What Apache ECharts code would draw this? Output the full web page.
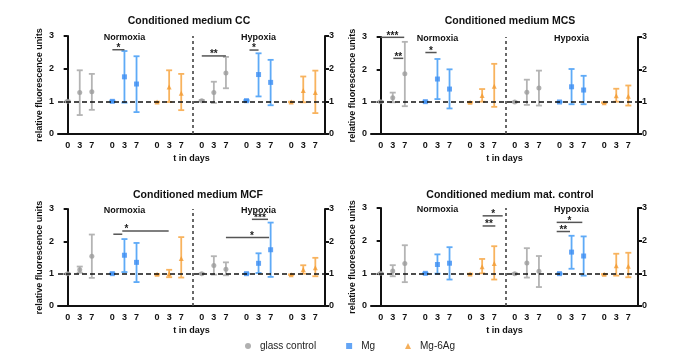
<!DOCTYPE html>
<html>
<head>
<meta charset="utf-8">
<script src="https://cdn.jsdelivr.net/npm/echarts@6/dist/echarts.min.js"></script>
<style>html,body{margin:0;background:#fff}#chart{width:680px;height:352px}</style>
</head>
<body>
<div id="chart"></div>
<script>
const days = ['0', '3', '7'];
const materials = ['glass control', 'Mg', 'Mg-6Ag'];
const conditions = ['Normoxia', 'Hypoxia'];
const titles = ['Conditioned medium CC', 'Conditioned medium MCS', 'Conditioned medium MCF', 'Conditioned medium mat. control'];

// [mean, lower, upper] -> Normoxia d0, d3, d7, then Hypoxia d0, d3, d7
const ccGlass = [[1.0, 0.98, 1.02], [1.27, 0.58, 1.95], [1.29, 0.74, 1.84], [1.02, 1.0, 1.04], [1.27, 0.95, 1.6], [1.87, 1.4, 2.36]];
const ccMg = [[1.0, 0.98, 1.02], [1.75, 0.96, 2.54], [1.53, 0.67, 2.38], [1.02, 1.0, 1.04], [1.82, 1.15, 2.47], [1.58, 0.88, 2.27]];
const ccAg = [[0.98, 0.97, 0.99], [1.44, 0.98, 1.95], [1.25, 0.73, 1.84], [0.98, 0.97, 0.99], [1.33, 0.97, 1.76], [1.27, 0.64, 1.94]];

const mcsGlass = [[1.0, 0.99, 1.01], [1.12, 0.98, 1.28], [1.86, 0.86, 2.85], [0.99, 0.98, 1.0], [1.29, 0.9, 1.68], [1.42, 0.88, 1.96]];
const mcsMg = [[1.0, 0.99, 1.01], [1.7, 1.08, 2.32], [1.39, 0.79, 2.0], [0.99, 0.98, 1.0], [1.46, 0.92, 2.01], [1.36, 0.92, 1.8]];
const mcsAg = [[0.98, 0.97, 0.99], [1.19, 1.0, 1.39], [1.48, 0.84, 2.17], [0.97, 0.96, 0.98], [1.18, 1.0, 1.4], [1.17, 0.88, 1.5]];

const mcfGlass = [[1.0, 0.99, 1.01], [1.12, 1.03, 1.22], [1.54, 0.87, 2.21], [1.0, 0.99, 1.01], [1.25, 0.97, 1.54], [1.14, 0.95, 1.35]];
const mcfMg = [[1.0, 0.99, 1.01], [1.57, 1.05, 2.07], [1.35, 0.74, 1.95], [1.0, 0.99, 1.01], [1.32, 1.02, 1.63], [1.74, 0.9, 2.58]];
const mcfAg = [[0.98, 0.97, 0.99], [1.0, 0.89, 1.12], [1.47, 0.88, 2.13], [0.97, 0.96, 0.98], [1.13, 1.0, 1.26], [1.18, 0.92, 1.49]];

const matGlass = [[1.0, 0.99, 1.01], [1.07, 0.91, 1.25], [1.3, 0.73, 1.86], [0.99, 0.98, 1.0], [1.32, 0.87, 1.77], [1.06, 0.58, 1.53]];
const matMg = [[1.0, 0.99, 1.01], [1.27, 0.99, 1.58], [1.31, 0.81, 1.8], [0.99, 0.98, 1.0], [1.65, 1.14, 2.15], [1.53, 0.93, 2.13]];
const matAg = [[0.98, 0.97, 0.99], [1.2, 1.0, 1.44], [1.3, 0.81, 1.83], [0.97, 0.96, 0.98], [1.23, 0.93, 1.6], [1.22, 0.88, 1.63]];

// significance brackets: [x from, x to, y, text, text x]
const ccBrackets = [[3.7, 4.7, 2.58, '*'], [11.1, 13.1, 2.39, '**'], [15.05, 15.8, 2.57, '*']];
const mcsBrackets = [[0, 1.95, 2.99, '***'], [1.05, 1.87, 2.34, '**'], [3.7, 4.63, 2.52, '*']];
const mcfBrackets = [[3.78, 4.52, 2.22, ''], [4.52, 8.36, 2.32, '*', 4.86], [13.1, 16.67, 2.12, '*', 15.25], [15.25, 16.58, 2.68, '***']];
const matBrackets = [[8.44, 10.1, 2.76, '*', 9.32], [8.44, 9.49, 2.45, '**'], [14.57, 16.69, 2.56, '*'], [14.57, 15.67, 2.28, '**']];

const panels = [[ccGlass, ccMg, ccAg], [mcsGlass, mcsMg, mcsAg], [mcfGlass, mcfMg, mcfAg], [matGlass, matMg, matAg]];
const brackets = [ccBrackets, mcsBrackets, mcfBrackets, matBrackets];

const groupStep = 3.7;
const divider = 10.35;
const slotX = (cond, mat, day) => (cond * 3 + mat) * groupStep + day;
const slots = [];
for (let c = 0; c < 2; c++) for (let m = 0; m < 3; m++) for (let d = 0; d < 3; d++) slots.push({ x: slotX(c, m, d), label: days[d] });

const font = '"Liberation Sans", Arial, sans-serif';
const markerColors = ['#9c9c9c', '#3d8ef2', '#f39b32'];
const barColors = ['#b4b4b4', '#5eaaf7', '#f8b35e'];
const symbols = ['circle', 'rect', 'triangle'];

const grids = [
  { left: 58, top: 36, width: 267, height: 98 },
  { left: 371, top: 37, width: 267, height: 97 },
  { left: 58, top: 209, width: 267, height: 97 },
  { left: 371, top: 208, width: 267, height: 98 }
];
const titleCenters = [[184, 11], [505, 11], [193, 185], [505, 185]];

function errorBarItem(color) {
  return function (params, api) {
    const x = api.value(0);
    const lo = api.coord([x, api.value(1)]);
    const hi = api.coord([x, api.value(2)]);
    const w = 3;
    const style = { stroke: color, lineWidth: 1.8 };
    return {
      type: 'group',
      children: [
        { type: 'line', shape: { x1: lo[0], y1: lo[1], x2: hi[0], y2: hi[1] }, style },
        { type: 'line', shape: { x1: lo[0] - w, y1: lo[1], x2: lo[0] + w, y2: lo[1] }, style },
        { type: 'line', shape: { x1: hi[0] - w, y1: hi[1], x2: hi[0] + w, y2: hi[1] }, style }
      ]
    };
  };
}

function bracketItem(list) {
  return function (params, api) {
    const b = list[params.dataIndex];
    const p1 = api.coord([b[0], b[2]]);
    const p2 = api.coord([b[1], b[2]]);
    const children = [{ type: 'line', shape: { x1: p1[0], y1: p1[1], x2: p2[0], y2: p2[1] }, style: { stroke: '#555', lineWidth: 1.5 } }];
    if (b[3]) {
      const tx = api.coord([b[4] != null ? b[4] : (b[0] + b[1]) / 2, b[2]])[0];
      children.push({
        type: 'text', x: tx, y: p1[1] - 1.5,
        style: { text: b[3], align: 'center', verticalAlign: 'middle', font: 'bold 10px ' + font, fill: '#222' }
      });
    }
    return { type: 'group', children };
  };
}

function conditionLabel(params, api) {
  const p = api.coord([api.value(0), api.value(1)]);
  return {
    type: 'text', x: p[0], y: p[1],
    style: { text: conditions[params.dataIndex], align: 'center', verticalAlign: 'middle', font: 'bold 9px ' + font, fill: '#111' }
  };
}

const xAxes = [], yAxes = [], series = [], titleList = [];
grids.forEach((g, p) => {
  titleList.push({
    text: titles[p], left: titleCenters[p][0], top: titleCenters[p][1], textAlign: 'center',
    textStyle: { fontFamily: font, fontSize: 10.5, fontWeight: 'bold', color: '#111' }
  });
  xAxes.push({
    type: 'value', gridIndex: p, min: -0.8, max: 21.3,
    name: 't in days', nameLocation: 'middle', nameGap: 20,
    nameTextStyle: { fontFamily: font, fontSize: 9, fontWeight: 'bold', color: '#111' },
    axisLine: { lineStyle: { color: '#111', width: 2 } },
    axisTick: { show: false },
    splitLine: { show: false },
    axisLabel: {
      customValues: slots.map(s => s.x), margin: 7,
      fontFamily: font, fontSize: 9, fontWeight: 'bold', color: '#111',
      formatter: v => { const s = slots.find(s => Math.abs(s.x - v) < 0.01); return s ? s.label : ''; }
    }
  });
  ['left', 'right'].forEach(pos => {
    yAxes.push({
      type: 'value', gridIndex: p, position: pos, min: 0, max: 3, interval: 1,
      name: pos === 'left' ? 'relative fluorescence units' : '', nameLocation: 'middle', nameGap: 14,
      nameTextStyle: { fontFamily: font, fontSize: 9, fontWeight: 'bold', color: '#111' },
      axisLine: { show: true, lineStyle: { color: '#111', width: 2 } },
      axisTick: { show: true, length: 4, lineStyle: { color: '#111', width: 2 } },
      splitLine: { show: false },
      axisLabel: { margin: 4, fontFamily: font, fontSize: 9, fontWeight: 'bold', color: '#111' }
    });
  });
  const yi = p * 2;
  panels[p].forEach((rows, m) => {
    const pts = rows.map((r, i) => [slotX(Math.floor(i / 3), m, i % 3), r[0], r[1], r[2]]);
    series.push({
      type: 'custom', name: materials[m] + ' sd', xAxisIndex: p, yAxisIndex: yi,
      renderItem: errorBarItem(barColors[m]), encode: { x: 0, y: [1, 2] },
      data: pts.map(d => [d[0], d[2], d[3]]), z: 2, silent: true
    });
    series.push({
      type: 'scatter', name: materials[m], xAxisIndex: p, yAxisIndex: yi,
      symbol: symbols[m], symbolSize: m === 2 ? 5 : 5,
      itemStyle: { color: markerColors[m] },
      data: pts.map(d => [d[0], d[1]]), z: 3
    });
  });
  series.push({
    type: 'custom', xAxisIndex: p, yAxisIndex: yi, silent: true,
    renderItem: bracketItem(brackets[p]), encode: { x: [0, 1], y: 2 },
    data: brackets[p].map(b => [b[0], b[1], b[2]]), z: 4,
    markLine: {
      silent: true, symbol: ['none', 'none'], label: { show: false },
      data: [
        { yAxis: 1, lineStyle: { color: '#111', type: [5, 3], width: 1.6 } },
        { xAxis: divider, lineStyle: { color: '#444', type: [3, 3], width: 1.6 } }
      ]
    }
  });
  series.push({
    type: 'custom', xAxisIndex: p, yAxisIndex: yi, silent: true, z: 5,
    renderItem: conditionLabel, encode: { x: 0, y: 1 },
    data: conditions.map((c, i) => [slotX(i, 1, 1), 2.95])
  });
});

const chart = echarts.init(document.getElementById('chart'));
chart.setOption({
  animation: false,
  backgroundColor: '#fff',
  title: titleList,
  grid: grids,
  xAxis: xAxes,
  yAxis: yAxes,
  legend: {
    left: 240, top: 336, itemWidth: 6, itemHeight: 6, itemGap: 30,
    textStyle: { fontFamily: font, fontSize: 10, color: '#222', padding: [0, 0, 0, 4] },
    data: materials.map((n, i) => ({ name: n, icon: symbols[i], itemStyle: { color: markerColors[i] } }))
  },
  series
});
</script>
</body>
</html>
